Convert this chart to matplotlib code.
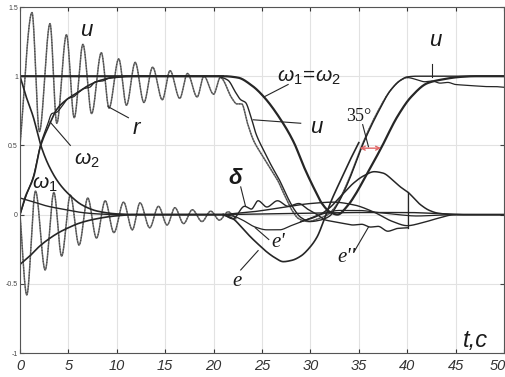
import numpy as np
import matplotlib
matplotlib.use("Agg")
import matplotlib.pyplot as plt
import matplotlib.transforms as mtransforms

# ---------------- data ----------------
x_ticks = [0, 5, 10, 15, 20, 25, 30, 35, 40, 45, 50]
y_ticks = [-1, -0.5, 0, 0.5, 1, 1.5]
y_tick_labels = ["-1", "-0.5", "0", "0.5", "1", "1.5"]

# oscillating u (grey dotted), continues through the descent/rise
u_t = [0, 1.24, 2.0, 3.1, 3.8, 4.8, 5.6, 6.5, 7.4, 8.4, 9.2, 10.2, 11.0, 11.9, 12.8,
       13.7, 14.7, 15.5, 16.5, 17.3, 18.3, 19.0, 20.0, 20.7, 21.9, 22.4, 22.9, 23.5,
       24.1, 25.0, 25.9, 26.6, 27.4, 28.2, 28.8, 29.8, 30.8, 31.8, 32.5, 33.3, 34.0,
       35.5, 37.0, 38.3, 39.3, 40.0, 41.0, 41.8, 42.6, 43.4, 44.2, 45.0, 46.0, 47.0,
       48.0, 49.0, 50.0]
u_v = [0.50, 1.46, 0.60, 1.38, 0.66, 1.30, 0.70, 1.23, 0.73, 1.17, 0.77, 1.125, 0.79,
       1.10, 0.81, 1.065, 0.83, 1.04, 0.84, 1.02, 0.85, 1.00, 0.87, 0.99, 0.84, 0.80,
       0.80, 0.66, 0.54, 0.43, 0.33, 0.25, 0.13, 0.02, -0.03, -0.05, -0.03, 0.00, 0.05,
       0.15, 0.26, 0.53, 0.75, 0.90, 0.97, 0.99, 0.975, 0.96, 0.965, 0.95, 0.955, 0.94,
       0.935, 0.93, 0.925, 0.925, 0.92]

# thick reference  omega1 = omega2
ref_t = [0, 21.0, 22.5, 24.0, 25.2, 26.9, 28.3, 29.3, 30.3, 31.2, 32.0, 32.8, 33.8,
         34.6, 35.5, 37.3, 39.0, 40.4, 42.1, 43.5, 45.5, 47.0, 50.0]
ref_v = [1.0, 1.0, 0.99, 0.93, 0.85, 0.69, 0.52, 0.35, 0.20, 0.08, 0.02, 0.0, 0.06,
         0.14, 0.25, 0.48, 0.71, 0.85, 0.95, 0.975, 0.995, 1.0, 1.0]

# thin solid curve: early descent, early rise to 1
thin_t = [20.5, 21.5, 22.3, 22.8, 23.3, 23.8, 24.4, 25.2, 26.0, 26.8, 27.6, 28.4, 29.0,
          30.0, 31.0, 32.0, 32.6, 33.3, 34.0, 35.5, 37.0, 38.3, 39.3, 40.0, 41.0, 50.0]
thin_v = [1.0, 0.97, 0.88, 0.83, 0.81, 0.72, 0.58, 0.46, 0.35, 0.25, 0.13, 0.03, -0.02,
          -0.05, -0.04, -0.01, 0.05, 0.14, 0.25, 0.52, 0.74, 0.90, 0.97, 0.995, 1.0, 1.0]

# r and omega2 rising curves
r_t = [0, 0.5, 1.4, 2.1, 3.1, 3.8, 4.8, 5.9, 7.0, 8.3, 10.0, 12.0, 21.0]
r_v = [0.0, 0.12, 0.27, 0.49, 0.66, 0.76, 0.83, 0.88, 0.93, 0.97, 0.995, 1.0, 1.0]
w2_t = [0, 0.6, 1.4, 2.1, 2.8, 3.3, 3.8, 4.3, 5.0, 5.5, 6.0, 6.6, 7.2, 7.8, 8.5, 9.2,
        10.0, 11.0, 21.0]
w2_v = [0.0, 0.13, 0.28, 0.50, 0.64, 0.73, 0.74, 0.78, 0.84, 0.85, 0.88, 0.91, 0.92,
        0.96, 0.965, 0.985, 0.99, 1.0, 1.0]

# omega1 decaying from 1
w1_t = [0, 0.6, 1.35, 2.2, 3.0, 4.0, 5.0, 6.4, 8.0, 10.0, 12.0, 21.0]
w1_v = [1.0, 0.86, 0.71, 0.49, 0.35, 0.23, 0.15, 0.07, 0.025, 0.005, 0.0, 0.0]

# lower curve rising from -0.36
lo_t = [0, 1.0, 2.0, 2.9, 4.0, 5.0, 6.0, 7.5, 9.8, 12.0, 21.0]
lo_v = [-0.36, -0.30, -0.23, -0.18, -0.13, -0.095, -0.065, -0.036, -0.01, 0.0, 0.0]

# small decaying curve
sd_t = [0, 1.0, 2.9, 4.7, 6.4, 8.0, 10.0, 21.0]
sd_v = [0.12, 0.10, 0.06, 0.036, 0.015, 0.005, 0.0, 0.0]

# lower oscillation (grey dotted)
du_t = [0, 0.7, 1.6, 2.6, 3.5, 4.3, 5.2, 6.1, 7.0, 7.9, 8.8, 9.7, 10.7, 11.6, 12.4,
        13.4, 14.3, 15.2, 16.0, 16.9, 17.8, 18.8, 19.7, 20.6, 21.5, 22.3]
du_v = [0.0, -0.58, 0.17, -0.40, 0.16, -0.30, 0.14, -0.22, 0.12, -0.17, 0.10, -0.13,
        0.09, -0.11, 0.085, -0.095, 0.06, -0.075, 0.05, -0.065, 0.035, -0.05, 0.025,
        -0.04, 0.02, -0.03]

# delta / e'' wavy curve
dl_t = [21.0, 22.0, 23.2, 23.9, 24.6, 25.5, 26.6, 27.7, 28.8, 29.7, 30.7, 31.6, 32.4,
        33.5, 34.4, 35.3, 36.2, 37.0, 38.0, 39.0, 40.1]
dl_v = [0.0, -0.03, 0.06, 0.04, 0.10, 0.055, 0.10, 0.06, 0.08, 0.04, 0.0, -0.04, -0.05,
        -0.065, -0.075, -0.07, -0.09, -0.085, -0.12, -0.10, -0.095]
jump_t = [40.1, 40.1]
jump_v = [-0.095, 0.16]

# bump curve
b_t = [29.0, 30.0, 31.0, 32.0, 33.1, 34.5, 35.5, 36.6, 37.5, 38.5, 39.3, 40.1, 41.4,
       42.3, 43.2, 45.0, 50.0]
b_v = [-0.05, -0.03, 0.0, 0.05, 0.13, 0.23, 0.28, 0.31, 0.30, 0.25, 0.20, 0.16, 0.07,
       0.03, 0.01, 0.0, 0.0]

# e curve
e_t = [21.0, 22.0, 23.0, 23.8, 24.7, 25.5, 26.3, 27.2, 28.1, 29.0, 29.9, 30.7, 31.4,
       32.1, 33.0, 34.0, 35.0]
e_v = [0.0, -0.03, -0.10, -0.16, -0.22, -0.27, -0.31, -0.34, -0.33, -0.30, -0.24,
       -0.16, -0.04, 0.09, 0.23, 0.38, 0.52]

# e' curve
ep_t = [21.0, 22.0, 23.0, 24.3, 25.5, 26.8, 28.0, 29.5, 31.0, 33.0, 35.0, 37.0, 39.0,
        41.0, 43.0, 45.0, 50.0]
ep_v = [0.0, -0.01, -0.04, -0.09, -0.11, -0.11, -0.08, -0.04, 0.0, 0.03, 0.03, 0.015,
        0.0, -0.01, -0.005, 0.0, 0.0]

# arc near zero
a_t = [21.0, 24.0, 27.0, 30.0, 32.4, 34.5, 36.5, 38.5, 40.0, 41.5, 43.0, 45.0, 50.0]
a_v = [0.0, 0.02, 0.05, 0.08, 0.09, 0.07, 0.02, -0.05, -0.08, -0.06, -0.03, 0.0, 0.0]

# nearly flat line
f_t = [21.0, 25.0, 30.0, 35.0, 40.0, 43.0, 46.0, 50.0]
f_v = [0.0, 0.005, 0.01, 0.015, 0.015, 0.008, 0.0, 0.0]


# ---------------- helpers ----------------
def pchip(x, y):
    x = np.asarray(x, float)
    y = np.asarray(y, float)
    h = np.diff(x)
    delta = np.diff(y) / h
    m = len(x)
    d = np.zeros(m)
    d[0] = delta[0]
    d[-1] = delta[-1]
    for k in range(1, m - 1):
        if delta[k - 1] * delta[k] > 0:
            w1 = 2 * h[k] + h[k - 1]
            w2 = h[k] + 2 * h[k - 1]
            d[k] = (w1 + w2) / (w1 / delta[k - 1] + w2 / delta[k])
        else:
            d[k] = 0.0
    xs = np.linspace(x[0], x[-1], int((x[-1] - x[0]) * 40) + 2)
    idx = np.clip(np.searchsorted(x, xs, side="right") - 1, 0, m - 2)
    s = (xs - x[idx]) / h[idx]
    h00 = 2 * s**3 - 3 * s**2 + 1
    h10 = s**3 - 2 * s**2 + s
    h01 = -2 * s**3 + 3 * s**2
    h11 = s**3 - s**2
    ys = h00 * y[idx] + h10 * h[idx] * d[idx] + h01 * y[idx + 1] + h11 * h[idx] * d[idx + 1]
    return xs, ys


plt.rcParams["font.family"] = ["Liberation Sans", "DejaVu Sans"]
plt.rcParams["mathtext.fontset"] = "custom"
plt.rcParams["mathtext.rm"] = "Liberation Sans"
plt.rcParams["mathtext.it"] = "Liberation Sans:italic"

fig = plt.figure(figsize=(5.06, 3.77), dpi=100)
fig.patch.set_facecolor("white")
ax = fig.add_axes([20 / 506, 24 / 377, 484 / 506, 346 / 377])
ax.set_xlim(0, 50)
ax.set_ylim(-1, 1.5)

ax.set_xticks(x_ticks)
ax.set_xticklabels([str(v) for v in x_ticks], fontstyle="italic", fontsize=10.5)
ax.set_yticks(y_ticks)
ax.set_yticklabels(y_tick_labels, fontsize=5)
ax.tick_params(axis="x", direction="in", length=3, top=True, pad=4, colors="#333333")
ax.tick_params(axis="y", direction="in", length=3, right=True, pad=1.5, colors="#444444")
ax.grid(True, color="#e2e2e2", lw=0.8)
ax.set_axisbelow(True)
for sp in ax.spines.values():
    sp.set_color("#555555")
    sp.set_linewidth(0.8)

# keep the last x label ("50") inside the picture
last = ax.get_xticklabels()[-1]
last.set_transform(last.get_transform() +
                   mtransforms.ScaledTranslation(-6 / 100, 0, fig.dpi_scale_trans))

dark = "#262626"
grey = "#707070"

# grey dotted oscillations
xs, ys = pchip(u_t, u_v)
mask = xs <= 40.0
ax.plot(xs[mask], ys[mask], color=grey, lw=1.1)
ax.plot(xs[mask], ys[mask], color="#444444", lw=0.8, ls=(0, (1, 1.5)))
ax.plot(xs[~mask], ys[~mask], color=dark, lw=0.9)
xs, ys = pchip(du_t, du_v)
ax.plot(xs, ys, color=grey, lw=1.1)
ax.plot(xs, ys, color="#444444", lw=0.8, ls=(0, (1, 1.5)))

# solid curves
for tt, vv, lw in [(ref_t, ref_v, 1.6), (thin_t, thin_v, 1.0), (r_t, r_v, 1.2),
                   (w2_t, w2_v, 0.9), (w1_t, w1_v, 1.2), (lo_t, lo_v, 1.2),
                   (sd_t, sd_v, 1.0), (dl_t, dl_v, 1.0), (b_t, b_v, 1.1),
                   (e_t, e_v, 1.2), (ep_t, ep_v, 0.9), (a_t, a_v, 1.0), (f_t, f_v, 1.0)]:
    xs, ys = pchip(tt, vv)
    ax.plot(xs, ys, color=dark, lw=lw)
ax.plot(jump_t, jump_v, color=dark, lw=0.9)

# ---------------- annotations ----------------
sans_it = dict(fontstyle="italic", color="#1a1a1a", ha="center", va="center")
serif_it = dict(family=["Liberation Serif", "DejaVu Serif"], fontstyle="italic",
                color="#1a1a1a", ha="center", va="center")

ax.text(6.8, 1.33, "u", fontsize=16, **sans_it)
ax.text(12.0, 0.62, "r", fontsize=16, **sans_it)
ax.text(6.9, 0.39, r"$\omega_{2}$", fontsize=15, **sans_it)
ax.text(2.6, 0.22, r"$\omega_{1}$", fontsize=15, **sans_it)
ax.text(29.8, 0.99, r"$\omega_{1}\!=\!\omega_{2}$", fontsize=15, **sans_it)
ax.text(30.6, 0.63, "u", fontsize=16, **sans_it)
ax.text(42.9, 1.26, "u", fontsize=16, **sans_it)
ax.text(47.1, -0.91, "t,c", fontsize=17, **sans_it)
ax.text(35.0, 0.71, "35°", fontsize=13, family=["Liberation Serif", "DejaVu Serif"],
        color="#1a1a1a", ha="center", va="center")
ax.text(22.2, 0.26, "δ", fontsize=16, fontweight="bold", fontstyle="italic",
        color="#1a1a1a", ha="center", va="center")
ax.text(26.7, -0.20, "e'", fontsize=15, **serif_it)
ax.text(22.4, -0.48, "e", fontsize=15, **serif_it)
ax.text(33.7, -0.31, "e''", fontsize=15, **serif_it)

leaders = [((11.2, 0.70), (9.1, 0.78)),
           ((5.2, 0.50), (3.1, 0.67)),
           ((27.7, 0.94), (25.2, 0.85)),
           ((29.0, 0.66), (24.1, 0.685)),
           ((42.6, 1.09), (42.6, 0.995)),
           ((22.8, 0.20), (23.3, 0.06)),
           ((25.7, -0.18), (24.3, -0.095)),
           ((22.8, -0.40), (24.6, -0.26)),
           ((34.5, -0.27), (36.0, -0.09)),
           ((35.4, 0.65), (36.0, 0.49))]
for (x0, y0), (x1, y1) in leaders:
    ax.plot([x0, x1], [y0, y1], color=dark, lw=0.8)

ax.annotate("", xy=(37.3, 0.48), xytext=(35.1, 0.48),
            arrowprops=dict(arrowstyle="<->", color="#e06666", lw=1.0,
                            shrinkA=0, shrinkB=0, mutation_scale=7))

fig.savefig("out.png", dpi=100)
